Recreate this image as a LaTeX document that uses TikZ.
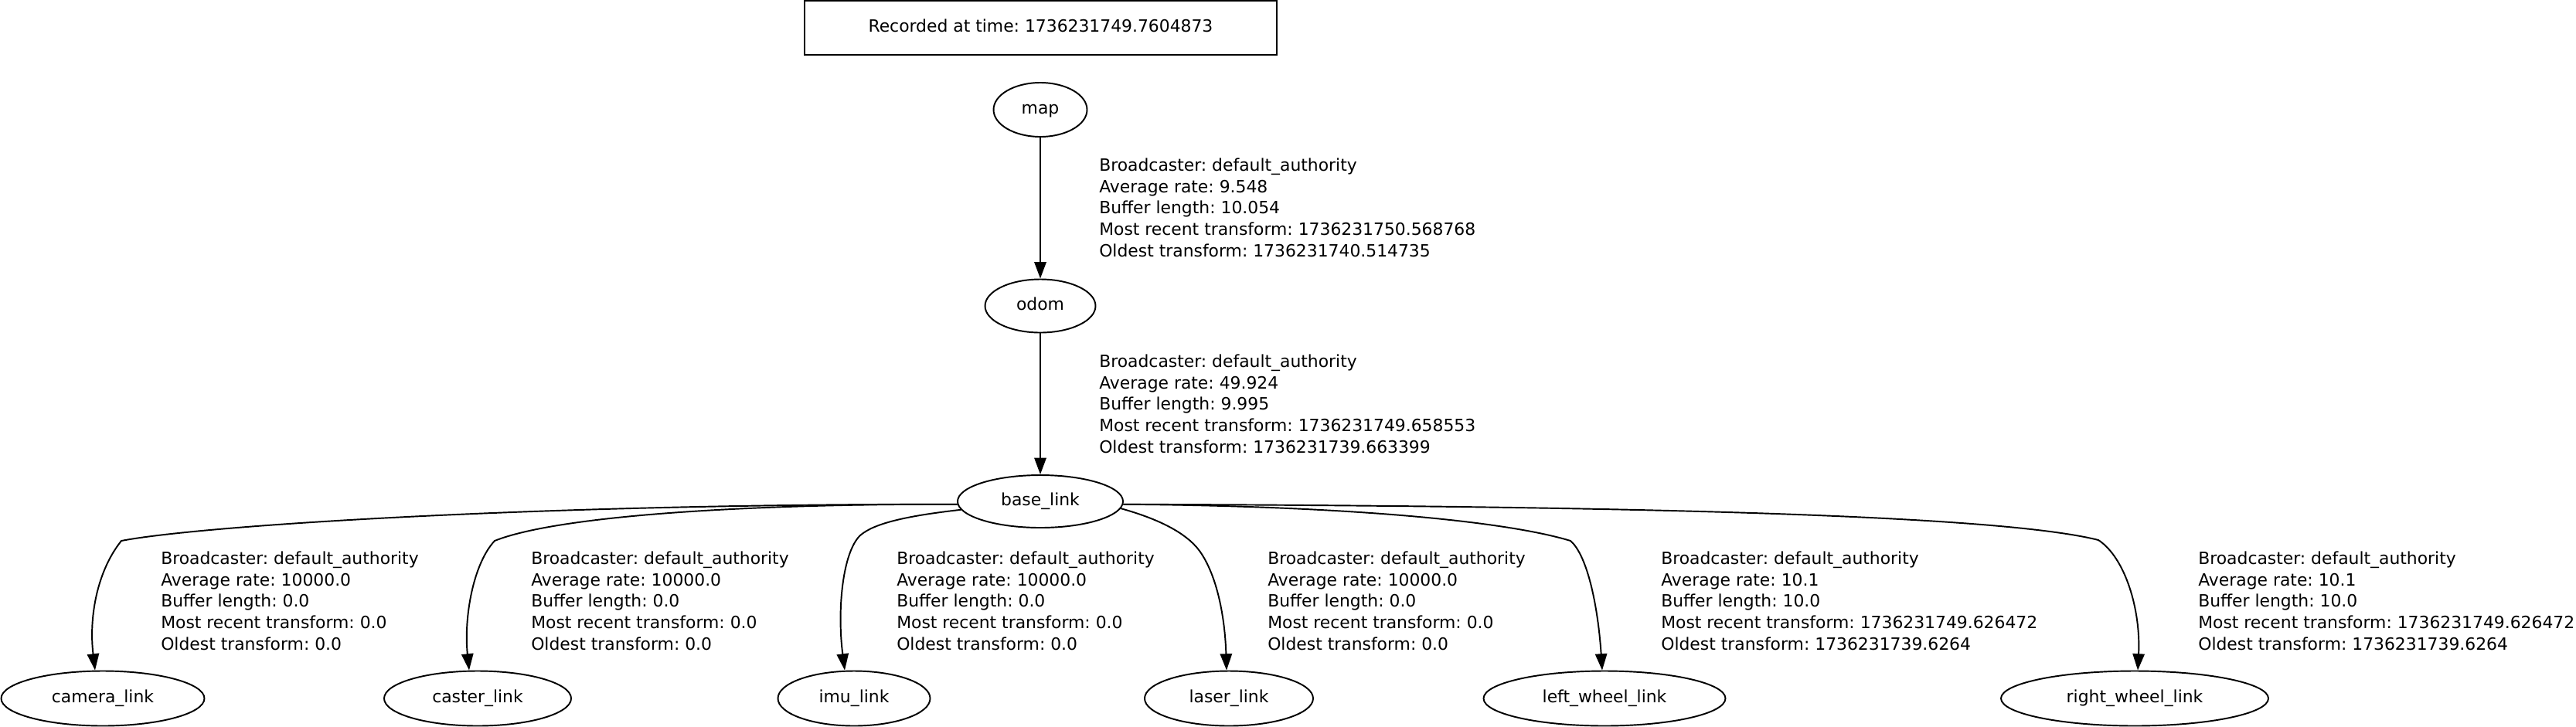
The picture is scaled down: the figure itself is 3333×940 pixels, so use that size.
\documentclass[tikz,border=0pt]{standalone}
\usepackage{fontspec}
\setmainfont{DejaVu Sans}
\frenchspacing
\usetikzlibrary{arrows.meta,shapes.geometric,calc}
\begin{document}
\begin{tikzpicture}[x=0.75pt,y=-0.75pt,
  every node/.style={font=\fontsize{16.4pt}{20.85pt}\selectfont},
  tfnode/.style={draw, ellipse, line width=1.45pt, inner sep=0pt, text height=0.8em, text depth=0pt},
  tfedge/.style={draw, line width=1.45pt, -{Triangle[length=16pt,width=11.5pt]}},
  lbl/.style={anchor=north west, align=left, inner sep=0pt}
]
\useasboundingbox (0,0) rectangle (3333,940);

\node[draw, rectangle, line width=1.45pt, inner sep=0pt, minimum width=458.25pt, minimum height=52.5pt, text height=0.8em, text depth=0pt] (title) at (1346.5,36) {Recorded at time: 1736231749.7604873};

\node[tfnode, minimum width=90.75pt, minimum height=52.5pt] (map) at (1346,142) {map};
\node[tfnode, minimum width=107.25pt, minimum height=51.75pt] (odom) at (1346,396) {odom};
\node[tfnode, minimum width=160.5pt, minimum height=51pt] (base) at (1346,649) {base\_link};

\node[tfnode, minimum width=197.25pt, minimum height=53.25pt] (camera) at (133,904) {camera\_link};
\node[tfnode, minimum width=181.5pt, minimum height=53.25pt] (caster) at (618,904) {caster\_link};
\node[tfnode, minimum width=147.75pt, minimum height=53.25pt] (imu) at (1105,904) {imu\_link};
\node[tfnode, minimum width=163.5pt, minimum height=53.25pt] (laser) at (1590,904) {laser\_link};
\node[tfnode, minimum width=234.75pt, minimum height=53.25pt] (lwheel) at (2076,904) {left\_wheel\_link};
\node[tfnode, minimum width=259.5pt, minimum height=53.25pt] (rwheel) at (2762,904) {right\_wheel\_link};

\draw[tfedge] (map) -- (odom);
\draw[tfedge] (odom) -- (base);
\draw[tfedge] (base.182) .. controls (700,652) and (260,680) .. (157,700) .. controls (125,740) and (115,800) .. ($(camera.north)+(-10,0)$);
\draw[tfedge] (base.182) .. controls (960,652) and (720,668) .. (640,700) .. controls (612,730) and (600,800) .. ($(caster.north)+(-11,0)$);
\draw[tfedge] (base.186) .. controls (1170,668) and (1130,678) .. (1113,693) .. controls (1090,715) and (1083,790) .. ($(imu.north)+(-12,0)$);
\draw[tfedge] (base.-5) .. controls (1500,672) and (1535,690) .. (1552,713) .. controls (1575,745) and (1585,800) .. ($(laser.north)+(-3,0)$);
\draw[tfedge] (base.-2) .. controls (1750,655) and (1950,675) .. (2032,700) .. controls (2055,720) and (2068,790) .. ($(lwheel.north)+(-3,0)$);
\draw[tfedge] (base.-2) .. controls (2200,655) and (2600,670) .. (2715,699) .. controls (2750,722) and (2770,790) .. ($(rwheel.north)+(4,0)$);

\node[lbl] (lab1) at (1422,204.5) {Broadcaster: default\_authority\\Average rate: 9.548\\Buffer length: 10.054\\Most recent transform: 1736231750.568768\\Oldest transform: 1736231740.514735};
\node[lbl] (lab2) at (1422,458.5) {Broadcaster: default\_authority\\Average rate: 49.924\\Buffer length: 9.995\\Most recent transform: 1736231749.658553\\Oldest transform: 1736231739.663399};
\node[lbl] (lab3) at (208,713.5) {Broadcaster: default\_authority\\Average rate: 10000.0\\Buffer length: 0.0\\Most recent transform: 0.0\\Oldest transform: 0.0};
\node[lbl] (lab4) at (687,713.5) {Broadcaster: default\_authority\\Average rate: 10000.0\\Buffer length: 0.0\\Most recent transform: 0.0\\Oldest transform: 0.0};
\node[lbl] (lab5) at (1160,713.5) {Broadcaster: default\_authority\\Average rate: 10000.0\\Buffer length: 0.0\\Most recent transform: 0.0\\Oldest transform: 0.0};
\node[lbl] (lab6) at (1640,713.5) {Broadcaster: default\_authority\\Average rate: 10000.0\\Buffer length: 0.0\\Most recent transform: 0.0\\Oldest transform: 0.0};
\node[lbl] (lab7) at (2149,713.5) {Broadcaster: default\_authority\\Average rate: 10.1\\Buffer length: 10.0\\Most recent transform: 1736231749.626472\\Oldest transform: 1736231739.6264};
\node[lbl] (lab8) at (2844,713.5) {Broadcaster: default\_authority\\Average rate: 10.1\\Buffer length: 10.0\\Most recent transform: 1736231749.626472\\Oldest transform: 1736231739.6264};
\end{tikzpicture}
\end{document}
